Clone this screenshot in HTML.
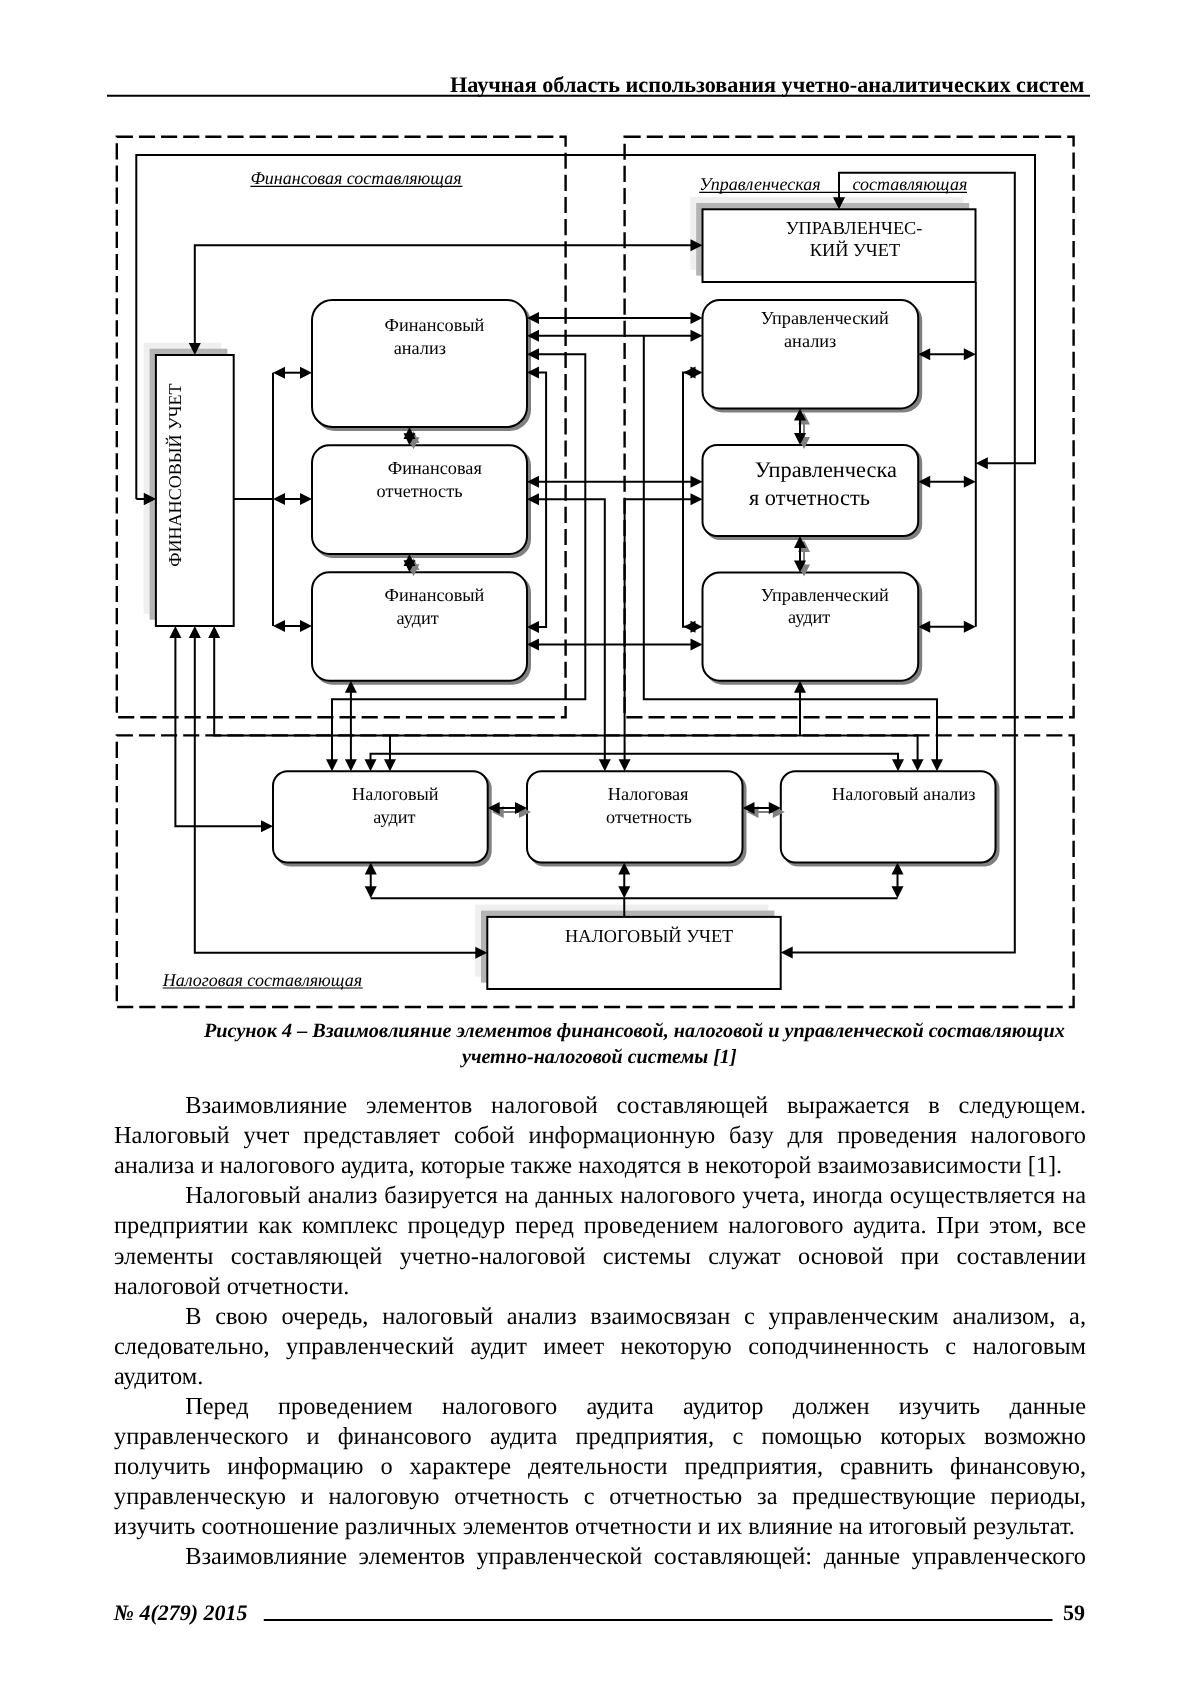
<!DOCTYPE html>
<html><head><meta charset="utf-8"><style>
html,body{margin:0;padding:0;background:#fff;}
body{width:1200px;height:1697px;position:relative;overflow:hidden;will-change:transform;text-rendering:geometricPrecision;font-family:"Liberation Serif",serif;color:#000;}
svg{position:absolute;left:0;top:0;}
svg text{font-family:"Liberation Serif",serif;fill:#000;}
.ln{position:absolute;height:30px;line-height:30px;font-size:24.39px;white-space:nowrap;text-align:justify;text-align-last:justify;}
.ln.last{text-align:left;text-align-last:left;}
</style></head><body>
<svg width="1200" height="1697" viewBox="0 0 1200 1697">
<text x="1084.50" y="91.70" font-size="22.21" font-weight="bold" text-anchor="end">Научная область использования учетно-аналитических систем</text>
<line x1="107" y1="95.8" x2="1090" y2="95.8" stroke="#000" stroke-width="2"/>
<path d="M116.80,136.80 H565.60 V717.30 H116.80 Z" fill="none" stroke="#000" stroke-width="2.4" stroke-dasharray="16.13 6"/>
<path d="M624.60,136.80 H1073.60 V717.30 H624.60 Z" fill="none" stroke="#000" stroke-width="2.4" stroke-dasharray="16.13 6"/>
<path d="M116.80,735.40 H1073.60 V1007.00 H116.80 Z" fill="none" stroke="#000" stroke-width="2.4" stroke-dasharray="16.13 6"/>
<text x="250.40" y="184.00" font-size="18.00" font-style="italic" text-anchor="start">Финансовая составляющая</text>
<line x1="250.40" y1="186.30" x2="462.40" y2="186.30" stroke="#000" stroke-width="1.2"/>
<text x="699.20" y="189.60" font-size="18.00" font-style="italic" text-anchor="start">Управленческая</text>
<text x="852.40" y="189.60" font-size="18.00" font-style="italic" text-anchor="start">составляющая</text>
<line x1="699.2" y1="192.4" x2="967" y2="192.4" stroke="#000" stroke-width="1.2"/>
<text x="162.70" y="986.00" font-size="18.00" font-style="italic" text-anchor="start">Налоговая составляющая</text>
<line x1="162.70" y1="988.00" x2="362.70" y2="988.00" stroke="#000" stroke-width="1.2"/>
<rect x="315.00" y="303.00" width="215.00" height="127.00" rx="20.32" fill="#808080" stroke="#808080" stroke-width="2"/>
<rect x="312.00" y="300.00" width="215.00" height="127.00" rx="20.32" fill="#fff" stroke="#000" stroke-width="2"/>
<rect x="315.00" y="448.30" width="215.00" height="108.70" rx="17.39" fill="#808080" stroke="#808080" stroke-width="2"/>
<rect x="312.00" y="445.30" width="215.00" height="108.70" rx="17.39" fill="#fff" stroke="#000" stroke-width="2"/>
<rect x="315.00" y="575.30" width="215.00" height="108.40" rx="17.34" fill="#808080" stroke="#808080" stroke-width="2"/>
<rect x="312.00" y="572.30" width="215.00" height="108.40" rx="17.34" fill="#fff" stroke="#000" stroke-width="2"/>
<rect x="705.50" y="303.00" width="215.70" height="108.50" rx="17.36" fill="#808080" stroke="#808080" stroke-width="2"/>
<rect x="702.50" y="300.00" width="215.70" height="108.50" rx="17.36" fill="#fff" stroke="#000" stroke-width="2"/>
<rect x="705.50" y="448.00" width="215.70" height="91.00" rx="14.56" fill="#808080" stroke="#808080" stroke-width="2"/>
<rect x="702.50" y="445.00" width="215.70" height="91.00" rx="14.56" fill="#fff" stroke="#000" stroke-width="2"/>
<rect x="705.50" y="575.50" width="215.70" height="108.20" rx="17.31" fill="#808080" stroke="#808080" stroke-width="2"/>
<rect x="702.50" y="572.50" width="215.70" height="108.20" rx="17.31" fill="#fff" stroke="#000" stroke-width="2"/>
<rect x="276.00" y="774.20" width="214.70" height="91.30" rx="14.61" fill="#808080" stroke="#808080" stroke-width="2"/>
<rect x="273.00" y="771.20" width="214.70" height="91.30" rx="14.61" fill="#fff" stroke="#000" stroke-width="2"/>
<rect x="530.00" y="774.20" width="215.50" height="91.30" rx="14.61" fill="#808080" stroke="#808080" stroke-width="2"/>
<rect x="527.00" y="771.20" width="215.50" height="91.30" rx="14.61" fill="#fff" stroke="#000" stroke-width="2"/>
<rect x="783.80" y="774.20" width="214.70" height="91.30" rx="14.61" fill="#808080" stroke="#808080" stroke-width="2"/>
<rect x="780.80" y="771.20" width="214.70" height="91.30" rx="14.61" fill="#fff" stroke="#000" stroke-width="2"/>
<rect x="143.60" y="342.70" width="77.80" height="271.00" fill="#efefef"/>
<rect x="149.60" y="348.70" width="77.80" height="271.00" fill="#b4b4b4"/>
<rect x="155.90" y="355.00" width="77.80" height="271.00" fill="#fff" stroke="#000" stroke-width="2"/>
<rect x="690.20" y="197.00" width="273.00" height="72.70" fill="#efefef"/>
<rect x="696.20" y="203.00" width="273.00" height="72.70" fill="#b4b4b4"/>
<rect x="702.50" y="209.30" width="273.00" height="72.70" fill="#fff" stroke="#000" stroke-width="2"/>
<rect x="475.00" y="904.60" width="293.40" height="72.10" fill="#efefef"/>
<rect x="481.00" y="910.60" width="293.40" height="72.10" fill="#b4b4b4"/>
<rect x="487.30" y="916.90" width="293.40" height="72.10" fill="#fff" stroke="#000" stroke-width="2"/>
<path d="M136.30,499.00 L136.30,155.00 L1035.00,155.00 L1035.00,463.30 L983.00,463.30" fill="none" stroke="#000" stroke-width="2.00" stroke-linejoin="miter" stroke-linecap="butt"/>
<polygon points="975.80,463.30 987.80,457.30 987.80,469.30" fill="#000"/>
<polygon points="155.90,499.00 143.90,493.00 143.90,505.00" fill="#000"/>
<path d="M136.30,499.00 L148.70,499.00" fill="none" stroke="#000" stroke-width="2.00" stroke-linejoin="miter" stroke-linecap="butt"/>
<polygon points="155.90,499.00 143.90,493.00 143.90,505.00" fill="#000"/>
<path d="M194.80,347.80 L194.80,245.20 L695.30,245.20" fill="none" stroke="#000" stroke-width="2.00" stroke-linejoin="miter" stroke-linecap="butt"/>
<polygon points="194.80,355.00 188.80,343.00 200.80,343.00" fill="#000"/>
<polygon points="702.50,245.20 690.50,239.20 690.50,251.20" fill="#000"/>
<path d="M839.00,202.10 L839.00,172.80 L1014.80,172.80 L1014.80,952.60 L787.90,952.60" fill="none" stroke="#000" stroke-width="2.00" stroke-linejoin="miter" stroke-linecap="butt"/>
<polygon points="839.00,209.30 833.00,197.30 845.00,197.30" fill="#000"/>
<polygon points="780.70,952.60 792.70,946.60 792.70,958.60" fill="#000"/>
<path d="M975.80,282.00 L975.80,626.70" fill="none" stroke="#000" stroke-width="2.00" stroke-linejoin="miter" stroke-linecap="butt"/>
<path d="M925.40,354.30 L968.60,354.30" fill="none" stroke="#000" stroke-width="2.00" stroke-linejoin="miter" stroke-linecap="butt"/>
<polygon points="918.20,354.30 930.20,348.30 930.20,360.30" fill="#000"/>
<polygon points="975.80,354.30 963.80,348.30 963.80,360.30" fill="#000"/>
<path d="M925.40,481.70 L968.60,481.70" fill="none" stroke="#000" stroke-width="2.00" stroke-linejoin="miter" stroke-linecap="butt"/>
<polygon points="918.20,481.70 930.20,475.70 930.20,487.70" fill="#000"/>
<polygon points="975.80,481.70 963.80,475.70 963.80,487.70" fill="#000"/>
<path d="M925.40,626.70 L968.60,626.70" fill="none" stroke="#000" stroke-width="2.00" stroke-linejoin="miter" stroke-linecap="butt"/>
<polygon points="918.20,626.70 930.20,620.70 930.20,632.70" fill="#000"/>
<polygon points="975.80,626.70 963.80,620.70 963.80,632.70" fill="#000"/>
<path d="M273.00,372.70 L273.00,626.00" fill="none" stroke="#000" stroke-width="2.00" stroke-linejoin="miter" stroke-linecap="butt"/>
<path d="M233.30,499.00 L273.00,499.00" fill="none" stroke="#000" stroke-width="2.00" stroke-linejoin="miter" stroke-linecap="butt"/>
<path d="M280.20,372.70 L304.80,372.70" fill="none" stroke="#000" stroke-width="2.00" stroke-linejoin="miter" stroke-linecap="butt"/>
<polygon points="273.00,372.70 285.00,366.70 285.00,378.70" fill="#000"/>
<polygon points="312.00,372.70 300.00,366.70 300.00,378.70" fill="#000"/>
<path d="M280.20,499.00 L304.80,499.00" fill="none" stroke="#000" stroke-width="2.00" stroke-linejoin="miter" stroke-linecap="butt"/>
<polygon points="273.00,499.00 285.00,493.00 285.00,505.00" fill="#000"/>
<polygon points="312.00,499.00 300.00,493.00 300.00,505.00" fill="#000"/>
<path d="M280.20,626.00 L304.80,626.00" fill="none" stroke="#000" stroke-width="2.00" stroke-linejoin="miter" stroke-linecap="butt"/>
<polygon points="273.00,626.00 285.00,620.00 285.00,632.00" fill="#000"/>
<polygon points="312.00,626.00 300.00,620.00 300.00,632.00" fill="#000"/>
<path d="M175.40,633.20 L175.40,826.30 L265.80,826.30" fill="none" stroke="#000" stroke-width="2.00" stroke-linejoin="miter" stroke-linecap="butt"/>
<polygon points="175.40,626.00 169.40,638.00 181.40,638.00" fill="#000"/>
<polygon points="273.00,826.30 261.00,820.30 261.00,832.30" fill="#000"/>
<path d="M194.80,633.20 L194.80,952.70 L480.10,952.70" fill="none" stroke="#000" stroke-width="2.00" stroke-linejoin="miter" stroke-linecap="butt"/>
<polygon points="194.80,626.00 188.80,638.00 200.80,638.00" fill="#000"/>
<polygon points="487.30,952.70 475.30,946.70 475.30,958.70" fill="#000"/>
<path d="M214.20,633.20 L214.20,735.50 L917.60,735.50 L917.60,764.00" fill="none" stroke="#000" stroke-width="2.00" stroke-linejoin="miter" stroke-linecap="butt"/>
<polygon points="214.20,626.00 208.20,638.00 220.20,638.00" fill="#000"/>
<polygon points="917.60,771.20 911.60,759.20 923.60,759.20" fill="#000"/>
<path d="M390.00,735.50 L390.00,764.00" fill="none" stroke="#000" stroke-width="2.00" stroke-linejoin="miter" stroke-linecap="butt"/>
<polygon points="390.00,771.20 384.00,759.20 396.00,759.20" fill="#000"/>
<path d="M800.00,735.50 L800.00,687.90" fill="none" stroke="#000" stroke-width="2.00" stroke-linejoin="miter" stroke-linecap="butt"/>
<polygon points="800.00,680.70 794.00,692.70 806.00,692.70" fill="#000"/>
<path d="M370.50,764.00 L370.50,753.70 L898.00,753.70 L898.00,764.00" fill="none" stroke="#000" stroke-width="2.00" stroke-linejoin="miter" stroke-linecap="butt"/>
<polygon points="370.50,771.20 364.50,759.20 376.50,759.20" fill="#000"/>
<polygon points="898.00,771.20 892.00,759.20 904.00,759.20" fill="#000"/>
<path d="M332.00,764.00 L332.00,699.20 L585.30,699.20 L585.30,354.30 L534.20,354.30" fill="none" stroke="#000" stroke-width="2.00" stroke-linejoin="miter" stroke-linecap="butt"/>
<polygon points="332.00,771.20 326.00,759.20 338.00,759.20" fill="#000"/>
<polygon points="527.00,354.30 539.00,348.30 539.00,360.30" fill="#000"/>
<path d="M643.80,335.80 L643.80,699.20 L937.00,699.20 L937.00,764.00" fill="none" stroke="#000" stroke-width="2.00" stroke-linejoin="miter" stroke-linecap="butt"/>
<polygon points="937.00,771.20 931.00,759.20 943.00,759.20" fill="#000"/>
<path d="M534.20,372.50 L546.10,372.50 L546.10,627.00 L534.20,627.00" fill="none" stroke="#000" stroke-width="2.00" stroke-linejoin="miter" stroke-linecap="butt"/>
<polygon points="527.00,372.50 539.00,366.50 539.00,378.50" fill="#000"/>
<polygon points="527.00,627.00 539.00,621.00 539.00,633.00" fill="#000"/>
<path d="M695.30,372.60 L683.00,372.60 L683.00,626.80 L695.30,626.80" fill="none" stroke="#000" stroke-width="2.00" stroke-linejoin="miter" stroke-linecap="butt"/>
<polygon points="702.50,372.60 690.50,366.60 690.50,378.60" fill="#000"/>
<polygon points="702.50,626.80 690.50,620.80 690.50,632.80" fill="#000"/>
<polygon points="683.50,372.60 695.50,366.60 695.50,378.60" fill="#000"/>
<polygon points="683.50,626.80 695.50,620.80 695.50,632.80" fill="#000"/>
<path d="M534.20,499.20 L604.80,499.20 L604.80,764.00" fill="none" stroke="#000" stroke-width="2.00" stroke-linejoin="miter" stroke-linecap="butt"/>
<polygon points="527.00,499.20 539.00,493.20 539.00,505.20" fill="#000"/>
<polygon points="604.80,771.20 598.80,759.20 610.80,759.20" fill="#000"/>
<path d="M695.30,499.20 L624.60,499.20 L624.60,764.00" fill="none" stroke="#000" stroke-width="2.00" stroke-linejoin="miter" stroke-linecap="butt"/>
<polygon points="702.50,499.20 690.50,493.20 690.50,505.20" fill="#000"/>
<polygon points="624.60,771.20 618.60,759.20 630.60,759.20" fill="#000"/>
<path d="M534.20,317.90 L695.30,317.90" fill="none" stroke="#000" stroke-width="2.00" stroke-linejoin="miter" stroke-linecap="butt"/>
<polygon points="527.00,317.90 539.00,311.90 539.00,323.90" fill="#000"/>
<polygon points="702.50,317.90 690.50,311.90 690.50,323.90" fill="#000"/>
<path d="M534.20,335.80 L695.30,335.80" fill="none" stroke="#000" stroke-width="2.00" stroke-linejoin="miter" stroke-linecap="butt"/>
<polygon points="527.00,335.80 539.00,329.80 539.00,341.80" fill="#000"/>
<polygon points="702.50,335.80 690.50,329.80 690.50,341.80" fill="#000"/>
<path d="M534.20,481.80 L695.30,481.80" fill="none" stroke="#000" stroke-width="2.00" stroke-linejoin="miter" stroke-linecap="butt"/>
<polygon points="527.00,481.80 539.00,475.80 539.00,487.80" fill="#000"/>
<polygon points="702.50,481.80 690.50,475.80 690.50,487.80" fill="#000"/>
<path d="M534.20,644.50 L695.30,644.50" fill="none" stroke="#000" stroke-width="2.00" stroke-linejoin="miter" stroke-linecap="butt"/>
<polygon points="527.00,644.50 539.00,638.50 539.00,650.50" fill="#000"/>
<polygon points="702.50,644.50 690.50,638.50 690.50,650.50" fill="#000"/>
<path d="M350.90,687.90 L350.90,764.00" fill="none" stroke="#000" stroke-width="2.00" stroke-linejoin="miter" stroke-linecap="butt"/>
<polygon points="350.90,680.70 344.90,692.70 356.90,692.70" fill="#000"/>
<polygon points="350.90,771.20 344.90,759.20 356.90,759.20" fill="#000"/>
<path d="M370.75,898.20 L897.50,898.20" fill="none" stroke="#000" stroke-width="2.00" stroke-linejoin="miter" stroke-linecap="butt"/>
<path d="M370.75,869.70 L370.75,891.00" fill="none" stroke="#000" stroke-width="2.00" stroke-linejoin="miter" stroke-linecap="butt"/>
<polygon points="370.75,862.50 364.75,874.50 376.75,874.50" fill="#000"/>
<polygon points="370.75,898.20 364.75,886.20 376.75,886.20" fill="#000"/>
<path d="M624.25,869.70 L624.25,891.00" fill="none" stroke="#000" stroke-width="2.00" stroke-linejoin="miter" stroke-linecap="butt"/>
<polygon points="624.25,862.50 618.25,874.50 630.25,874.50" fill="#000"/>
<polygon points="624.25,898.20 618.25,886.20 630.25,886.20" fill="#000"/>
<path d="M897.50,869.70 L897.50,891.00" fill="none" stroke="#000" stroke-width="2.00" stroke-linejoin="miter" stroke-linecap="butt"/>
<polygon points="897.50,862.50 891.50,874.50 903.50,874.50" fill="#000"/>
<polygon points="897.50,898.20 891.50,886.20 903.50,886.20" fill="#000"/>
<path d="M624.25,898.20 L624.25,916.90" fill="none" stroke="#000" stroke-width="2.00" stroke-linejoin="miter" stroke-linecap="butt"/>
<path d="M498.90,812.00 L523.80,812.00" fill="none" stroke="#808080" stroke-width="2.00" stroke-linejoin="miter" stroke-linecap="butt"/>
<polygon points="491.70,812.00 503.70,806.00 503.70,818.00" fill="#808080"/>
<polygon points="531.00,812.00 519.00,806.00 519.00,818.00" fill="#808080"/>
<path d="M753.70,812.00 L777.60,812.00" fill="none" stroke="#808080" stroke-width="2.00" stroke-linejoin="miter" stroke-linecap="butt"/>
<polygon points="746.50,812.00 758.50,806.00 758.50,818.00" fill="#808080"/>
<polygon points="784.80,812.00 772.80,806.00 772.80,818.00" fill="#808080"/>
<path d="M413.50,438.20 L413.50,442.10" fill="none" stroke="#808080" stroke-width="2.00" stroke-linejoin="miter" stroke-linecap="butt"/>
<polygon points="413.50,431.00 407.50,443.00 419.50,443.00" fill="#808080"/>
<polygon points="413.50,449.30 407.50,437.30 419.50,437.30" fill="#808080"/>
<path d="M413.50,565.20 L413.50,569.10" fill="none" stroke="#808080" stroke-width="2.00" stroke-linejoin="miter" stroke-linecap="butt"/>
<polygon points="413.50,558.00 407.50,570.00 419.50,570.00" fill="#808080"/>
<polygon points="413.50,576.30 407.50,564.30 419.50,564.30" fill="#808080"/>
<path d="M804.00,419.70 L804.00,441.80" fill="none" stroke="#808080" stroke-width="2.00" stroke-linejoin="miter" stroke-linecap="butt"/>
<polygon points="804.00,412.50 798.00,424.50 810.00,424.50" fill="#808080"/>
<polygon points="804.00,449.00 798.00,437.00 810.00,437.00" fill="#808080"/>
<path d="M804.00,547.20 L804.00,569.30" fill="none" stroke="#808080" stroke-width="2.00" stroke-linejoin="miter" stroke-linecap="butt"/>
<polygon points="804.00,540.00 798.00,552.00 810.00,552.00" fill="#808080"/>
<polygon points="804.00,576.50 798.00,564.50 810.00,564.50" fill="#808080"/>
<path d="M494.90,808.00 L519.80,808.00" fill="none" stroke="#000" stroke-width="2.00" stroke-linejoin="miter" stroke-linecap="butt"/>
<polygon points="487.70,808.00 499.70,802.00 499.70,814.00" fill="#000"/>
<polygon points="527.00,808.00 515.00,802.00 515.00,814.00" fill="#000"/>
<path d="M749.70,808.00 L773.60,808.00" fill="none" stroke="#000" stroke-width="2.00" stroke-linejoin="miter" stroke-linecap="butt"/>
<polygon points="742.50,808.00 754.50,802.00 754.50,814.00" fill="#000"/>
<polygon points="780.80,808.00 768.80,802.00 768.80,814.00" fill="#000"/>
<path d="M409.50,434.20 L409.50,438.10" fill="none" stroke="#000" stroke-width="2.00" stroke-linejoin="miter" stroke-linecap="butt"/>
<polygon points="409.50,427.00 403.50,439.00 415.50,439.00" fill="#000"/>
<polygon points="409.50,445.30 403.50,433.30 415.50,433.30" fill="#000"/>
<path d="M409.50,561.20 L409.50,565.10" fill="none" stroke="#000" stroke-width="2.00" stroke-linejoin="miter" stroke-linecap="butt"/>
<polygon points="409.50,554.00 403.50,566.00 415.50,566.00" fill="#000"/>
<polygon points="409.50,572.30 403.50,560.30 415.50,560.30" fill="#000"/>
<path d="M800.00,415.70 L800.00,437.80" fill="none" stroke="#000" stroke-width="2.00" stroke-linejoin="miter" stroke-linecap="butt"/>
<polygon points="800.00,408.50 794.00,420.50 806.00,420.50" fill="#000"/>
<polygon points="800.00,445.00 794.00,433.00 806.00,433.00" fill="#000"/>
<path d="M800.00,543.20 L800.00,565.30" fill="none" stroke="#000" stroke-width="2.00" stroke-linejoin="miter" stroke-linecap="butt"/>
<polygon points="800.00,536.00 794.00,548.00 806.00,548.00" fill="#000"/>
<polygon points="800.00,572.50 794.00,560.50 806.00,560.50" fill="#000"/>
<text x="384.60" y="330.70" font-size="18.27" text-anchor="start">Финансовый</text>
<text x="393.70" y="354.00" font-size="18.27" text-anchor="start">анализ</text>
<text x="387.80" y="474.20" font-size="18.27" text-anchor="start">Финансовая</text>
<text x="376.60" y="497.00" font-size="18.27" text-anchor="start">отчетность</text>
<text x="384.60" y="601.20" font-size="18.27" text-anchor="start">Финансовый</text>
<text x="396.50" y="624.00" font-size="18.27" text-anchor="start">аудит</text>
<text x="760.70" y="324.30" font-size="18.27" text-anchor="start">Управленческий</text>
<text x="784.00" y="347.30" font-size="18.27" text-anchor="start">анализ</text>
<text x="754.70" y="476.70" font-size="22.33" text-anchor="start">Управленческа</text>
<text x="749.00" y="505.00" font-size="22.33" text-anchor="start">я отчетность</text>
<text x="760.70" y="601.00" font-size="18.27" text-anchor="start">Управленческий</text>
<text x="788.00" y="623.30" font-size="18.27" text-anchor="start">аудит</text>
<text x="352.00" y="799.50" font-size="18.27" text-anchor="start">Налоговый</text>
<text x="373.25" y="822.50" font-size="18.27" text-anchor="start">аудит</text>
<text x="607.75" y="799.50" font-size="18.27" text-anchor="start">Налоговая</text>
<text x="606.00" y="822.50" font-size="18.27" text-anchor="start">отчетность</text>
<text x="832.00" y="799.50" font-size="18.27" text-anchor="start">Налоговый анализ</text>
<text x="785.70" y="233.70" font-size="18.27" text-anchor="start">УПРАВЛЕНЧЕС-</text>
<text x="809.80" y="255.80" font-size="18.27" text-anchor="start">КИЙ УЧЕТ</text>
<text x="565.00" y="941.70" font-size="18.27" text-anchor="start">НАЛОГОВЫЙ УЧЕТ</text>
<text transform="translate(180.6,566.7) rotate(-90)" font-size="18.05">ФИНАНСОВЫЙ УЧЕТ</text>
<text x="204.00" y="1036.70" font-size="20.22" font-style="italic" font-weight="bold" text-anchor="start">Рисунок 4 – Взаимовлияние элементов финансовой, налоговой и управленческой составляющих</text>
<text x="462.00" y="1063.30" font-size="20.10" font-style="italic" font-weight="bold" text-anchor="start">учетно-налоговой системы [1]</text>
<text x="113.75" y="1619.90" font-size="22.00" font-style="italic" font-weight="bold" text-anchor="start">№ 4(279) 2015</text>
<line x1="263.75" y1="1620" x2="1052.5" y2="1620" stroke="#000" stroke-width="2"/>
<text x="1085.00" y="1619.90" font-size="22.00" font-weight="bold" text-anchor="end">59</text>
</svg>
<div class="ln" style="top:1091.37px;left:185.20px;width:900.80px">Взаимовлияние элементов налоговой составляющей выражается в следующем.</div>
<div class="ln" style="top:1121.40px;left:114.00px;width:972.00px">Налоговый учет представляет собой информационную базу для проведения налогового</div>
<div class="ln last" style="top:1151.43px;left:114.00px;width:972.00px">анализа и налогового аудита, которые также находятся в некоторой взаимозависимости [1].</div>
<div class="ln" style="top:1181.46px;left:185.20px;width:900.80px">Налоговый анализ базируется на данных налогового учета, иногда осуществляется на</div>
<div class="ln" style="top:1211.49px;left:114.00px;width:972.00px">предприятии как комплекс процедур перед проведением налогового аудита. При этом, все</div>
<div class="ln" style="top:1241.52px;left:114.00px;width:972.00px">элементы составляющей учетно-налоговой системы служат основой при составлении</div>
<div class="ln last" style="top:1271.55px;left:114.00px;width:972.00px">налоговой отчетности.</div>
<div class="ln" style="top:1301.58px;left:185.20px;width:900.80px">В свою очередь, налоговый анализ взаимосвязан с управленческим анализом, а,</div>
<div class="ln" style="top:1331.61px;left:114.00px;width:972.00px">следовательно, управленческий аудит имеет некоторую соподчиненность с налоговым</div>
<div class="ln last" style="top:1361.64px;left:114.00px;width:972.00px">аудитом.</div>
<div class="ln" style="top:1391.67px;left:185.20px;width:900.80px">Перед проведением налогового аудита аудитор должен изучить данные</div>
<div class="ln" style="top:1421.70px;left:114.00px;width:972.00px">управленческого и финансового аудита предприятия, с помощью которых возможно</div>
<div class="ln" style="top:1451.73px;left:114.00px;width:972.00px">получить информацию о характере деятельности предприятия, сравнить финансовую,</div>
<div class="ln" style="top:1481.76px;left:114.00px;width:972.00px">управленческую и налоговую отчетность с отчетностью за предшествующие периоды,</div>
<div class="ln last" style="top:1511.79px;left:114.00px;width:972.00px">изучить соотношение различных элементов отчетности и их влияние на итоговый результат.</div>
<div class="ln" style="top:1541.82px;left:185.20px;width:900.80px">Взаимовлияние элементов управленческой составляющей: данные управленческого</div>
</body></html>
